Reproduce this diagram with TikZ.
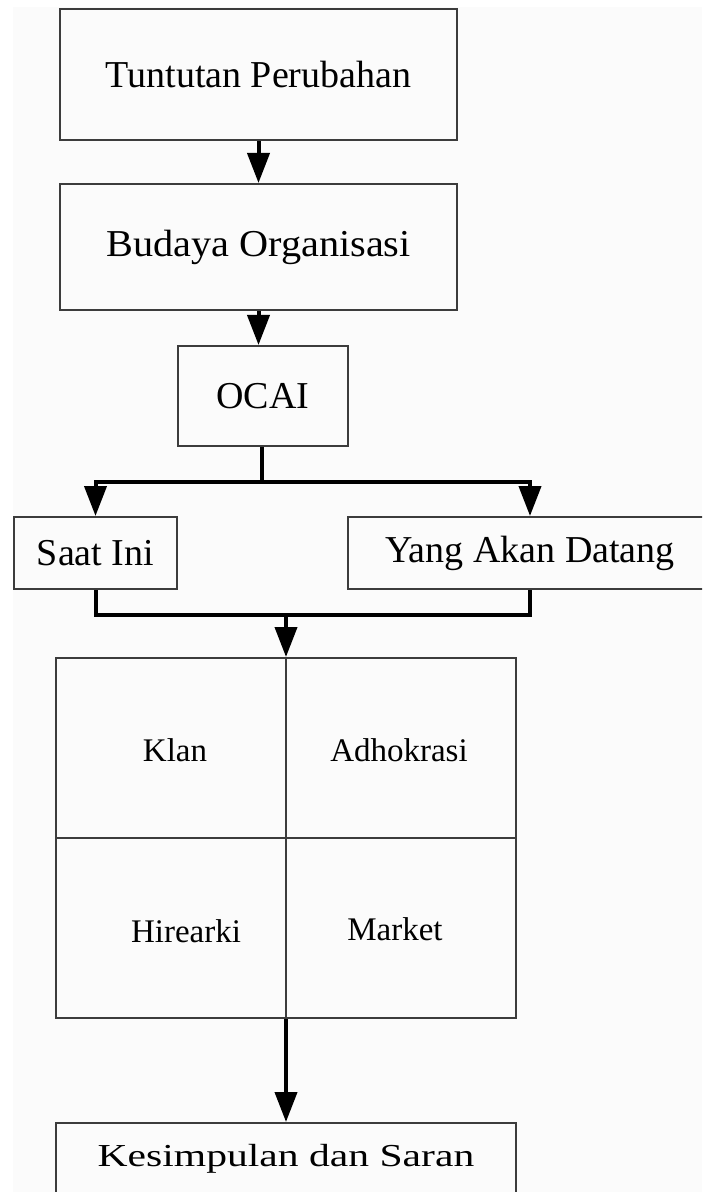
\documentclass[tikz,border=0pt]{standalone}
\usepackage{fontspec}
\setmainfont{Liberation Serif}
\usetikzlibrary{arrows.meta}
\definecolor{bg}{HTML}{FBFBFB}
\definecolor{edge}{HTML}{3C3C3C}
\tikzset{
  box/.style={draw=edge, line width=1pt, rectangle, inner sep=0pt, align=center, font=\fontsize{19}{22}\selectfont},
  cell/.style={inner sep=0pt, font=\fontsize{16.5}{19}\selectfont},
  flow/.style={line width=2pt, line join=miter, -{Triangle[width=11pt,length=15pt]}},
  wire/.style={line width=2pt, line join=miter},
  divider/.style={draw=edge, line width=1pt}
}
\begin{document}
\begin{tikzpicture}[x=0.5pt,y=-0.5pt]
\useasboundingbox (0,0) rectangle (702,1192);
\clip (0,0) rectangle (702,1192);
\fill[white] (0,0) rectangle (702,1192);
\fill[bg] (13,7) rectangle (702,1192);

\node[box, minimum width=198.5pt, minimum height=65.5pt] (tuntutan) at (258.5,74.5) {Tuntutan Perubahan};
\node[box, minimum width=198.5pt, minimum height=63pt] (budaya) at (258.5,247) {\scalebox{1.06}[1]{Budaya Organisasi}};
\node[box, minimum width=85pt, minimum height=50pt] (ocai) at (263,396) {OCAI};
\node[box, minimum width=81.5pt, minimum height=36pt] (saat) at (95.5,553) {Saat Ini};
\node[box, minimum width=182.5pt, minimum height=36pt] (yang) at (530,553) {Yang Akan Datang};

\node[box, minimum width=230pt, minimum height=180pt] (grid) at (286,838) {};
\draw[divider] (grid.north) -- (grid.south);
\draw[divider] (grid.west) -- (grid.east);
\node[cell] (klan) at (175,750) {Klan};
\node[cell] (adhok) at (399,750) {Adhokrasi};
\node[cell] (hier) at (186,931) {Hirearki};
\node[cell] (market) at (395,929) {Market};

\node[box, minimum width=230pt, minimum height=36pt, font=\fontsize{16}{19}\selectfont] (kes) at (286,1159) {\scalebox{1.3}[1]{Kesimpulan dan Saran}};

\coordinate (split) at (262,482);
\coordinate (splitL) at (95.5,482);
\coordinate (splitR) at (530,482);
\coordinate (mergeL) at (95.5,615);
\coordinate (mergeR) at (530,615);
\coordinate (mergeC) at (286,615);

\draw[flow] (tuntutan.south) -- (budaya.north);
\draw[flow] (budaya.south) -- (budaya.south |- ocai.north);
\draw[wire] (ocai.south -| split) -- (split);
\draw[flow] (split) -- (splitL) -- (saat.north);
\draw[flow] (split) -- (splitR) -- (yang.north);
\draw[wire] (saat.south) -- (mergeL) -- (mergeR) -- (yang.south);
\draw[flow] (mergeC) -- (grid.north);
\draw[flow] (grid.south) -- (kes.north);
\end{tikzpicture}
\end{document}
